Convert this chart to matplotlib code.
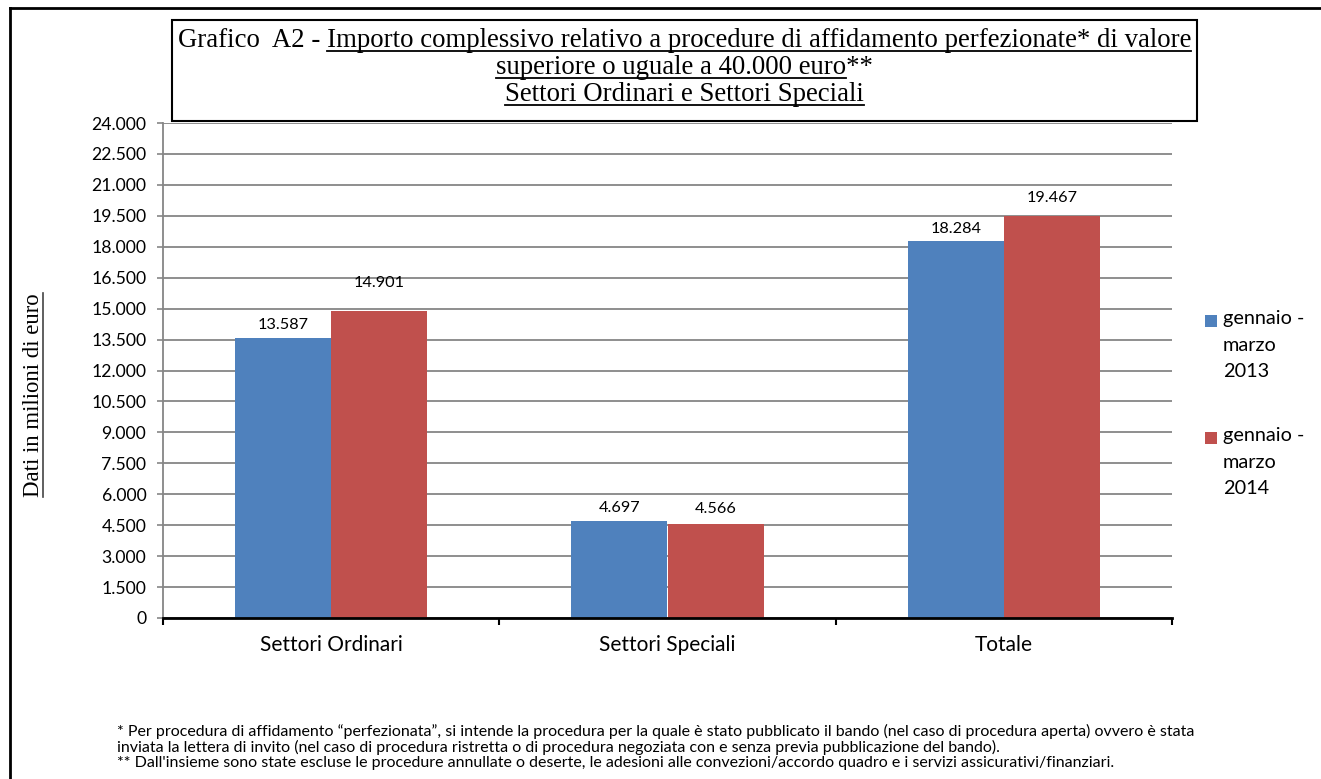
import matplotlib
matplotlib.use('Agg')
import matplotlib.pyplot as plt
from matplotlib.lines import Line2D
from matplotlib.patches import Rectangle
import numpy as np

# data
categories = ['Settori Ordinari', 'Settori Speciali', 'Totale']
series_names = ['gennaio -\nmarzo\n2013', 'gennaio -\nmarzo\n2014']
values_2013 = [13587, 4697, 18284]
values_2014 = [14901, 4566, 19467]
yticks = list(range(0, 24001, 1500))

colors = ['#4F81BD', '#C0504D']
label_lift = [[13, 13, 12], [28, 15, 18]]  # px above bar top (label centre)

footnotes = [
    "* Per procedura di affidamento \u201cperfezionata\u201d, si intende la procedura per la quale \u00e8 stato pubblicato il bando (nel caso di procedura aperta) ovvero \u00e8 stata",
    "inviata la lettera di invito (nel caso di procedura ristretta o di procedura negoziata con e senza previa pubblicazione del bando).",
    "** Dall'insieme sono state escluse le procedure annullate o deserte, le adesioni alle convezioni/accordo quadro e i servizi assicurativi/finanziari.",
]

def fmt(v):
    return f"{v:,}".replace(',', '.')

plt.rcParams['font.family'] = 'Lato'
W, H = 1321, 779
fig = plt.figure(figsize=(W / 100, H / 100), dpi=100)
renderer = fig.canvas.get_renderer()

def px(x, y):
    return (x / W, 1 - y / H)

def text_width(s, **kw):
    t = fig.text(0, 0, s, **kw)
    w = t.get_window_extent(renderer).width
    t.remove()
    return w

# axes
ax = fig.add_axes([163 / W, 1 - 618 / H, (1172 - 163) / W, (618 - 123) / H])
x = np.arange(len(categories))
bw = 0.286
for i, vals in enumerate([values_2013, values_2014]):
    pos = x + (i - 0.5) * bw
    ax.bar(pos, vals, bw, color=colors[i], zorder=3)
    for xp, v, lift in zip(pos, vals, label_lift[i]):
        ax.annotate(fmt(v), (xp, v), xytext=(0, lift * 0.72), textcoords='offset points',
                    ha='center', va='center', fontsize=11.7, color='black')

ax.set_ylim(0, 24000)
ax.set_yticks(yticks)
ax.set_yticklabels([fmt(v) for v in yticks], fontsize=12.7)
ax.set_xlim(-0.5, 2.5)
ax.set_xticks([-0.5, 0.5, 1.5, 2.5])
ax.set_xticklabels([])
ax.set_xticks(x, minor=True)
ax.set_xticklabels(categories, minor=True, fontsize=15)
ax.tick_params(axis='x', which='major', length=5, width=1.5, color='black', direction='out')
ax.tick_params(axis='x', which='minor', length=0, pad=12)
ax.tick_params(axis='y', length=4, width=1.2, color='#868686', pad=8)
ax.grid(axis='y', color='#868686', lw=1.3, zorder=0)
for s in ['top', 'right']:
    ax.spines[s].set_visible(False)
ax.spines['left'].set_color('#868686')
ax.spines['left'].set_linewidth(1.3)
ax.spines['bottom'].set_color('black')
ax.spines['bottom'].set_linewidth(2)
ax.spines['bottom'].set_zorder(4)

# outer frame
fig.add_artist(Line2D([10 / W, 1], [1 - 8 / H, 1 - 8 / H], transform=fig.transFigure, color='black', lw=2))
fig.add_artist(Line2D([10 / W, 10 / W], [0, 1 - 8 / H], transform=fig.transFigure, color='black', lw=2))

# title box
fig.add_artist(Rectangle(px(172, 121), (1197 - 172) / W, (121 - 20) / H, transform=fig.transFigure,
                         facecolor='white', edgecolor='black', lw=1.5, zorder=5))
serif = dict(family='Liberation Serif', color='black')
title_lines = [
    ("Grafico  A2 - ", "Importo complessivo relativo a procedure di affidamento perfezionate* di valore", ""),
    ("", "superiore o uguale a 40.000 euro", "**"),
    ("", "Settori Ordinari e Settori Speciali", ""),
]
first = ''.join(title_lines[0])
tsize = 10 * 1010 / text_width(first, fontsize=10, **serif)
cx = 684.5
for (pre, mid, post), yb in zip(title_lines, [47, 74, 101]):
    full = pre + mid + post
    fig.text(*px(cx, yb), full, ha='center', va='baseline', fontsize=tsize, zorder=6, **serif)
    wf = text_width(full, fontsize=tsize, **serif)
    w_pre = text_width(pre + mid, fontsize=tsize, **serif) - text_width(mid, fontsize=tsize, **serif)
    left = cx - wf / 2 + w_pre
    right = left + text_width(mid, fontsize=tsize, **serif)
    fig.add_artist(Line2D([left / W, right / W], [1 - (yb + 3.5) / H] * 2, transform=fig.transFigure,
                          color='black', lw=1.3, zorder=6))

# y label, underlined
ysize = 10 * 204 / text_width("Dati in milioni di euro", fontsize=10, **serif)
yl = fig.text(*px(34, 395), "Dati in milioni di euro", rotation=90, ha='center', va='center',
              fontsize=ysize, **serif)
bb = yl.get_window_extent(renderer)
ux = bb.x1 - 0.08 * ysize * 100 / 72
fig.add_artist(Line2D([ux / W, ux / W], [bb.y0 / H, bb.y1 / H], transform=fig.transFigure,
                      color='#444444', lw=1.2))

# legend
for i, name in enumerate(series_names):
    y0 = 315 + i * 117
    fig.add_artist(Rectangle(px(1205, y0 + 12), 12 / W, 12 / H, transform=fig.transFigure,
                             facecolor=colors[i], edgecolor='none'))
    fig.text(*px(1223, y0 + 30), name, ha='left', va='center', fontsize=14.3, linespacing=1.67)

# footnotes, fitted to the width of the first line
fsize = 10 * 1080 / text_width(footnotes[0], fontsize=10)
for line, yc in zip(footnotes, [731, 747, 763]):
    fig.text(*px(117, yc), line, ha='left', va='center', fontsize=fsize)

fig.savefig('out.png', dpi=100)
